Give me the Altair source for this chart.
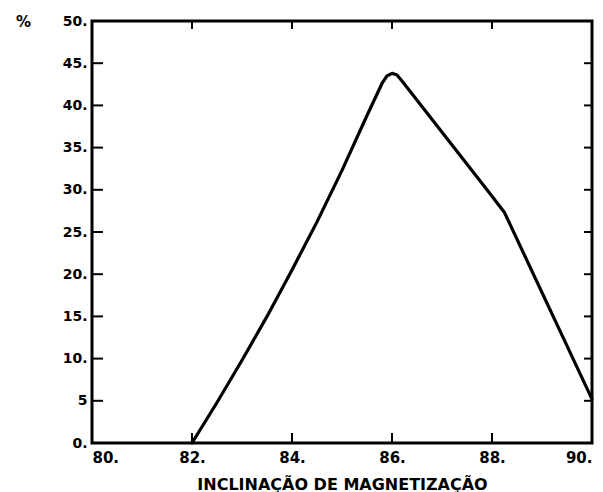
import altair as alt
import pandas as pd

# Percentage as a function of magnetization inclination
inclinacao = [82.0, 82.5, 83.0, 83.5, 84.0, 84.5, 85.0, 85.5, 85.8, 85.9, 86.0, 86.1, 86.2,
              86.9, 87.9, 88.25, 90.0]
percentual = [0.0, 4.8, 9.8, 15.0, 20.5, 26.2, 32.3, 38.8, 42.6, 43.5, 43.8, 43.6, 42.9,
              37.6, 30.0, 27.3, 5.2]

x_ticks = [80, 82, 84, 86, 88, 90]
y_ticks = [0, 5, 10, 15, 20, 25, 30, 35, 40, 45, 50]
x_inner = [82, 84, 86, 88]
y_inner = [5, 10, 15, 20, 25, 30, 35, 40, 45]

W, H = 500, 422
FONT = "DejaVu Sans"

curve = pd.DataFrame({"x": inclinacao, "y": percentual})
xt = pd.DataFrame({"x": x_inner})
yt = pd.DataFrame({"y": y_inner})

x_scale = alt.Scale(domain=[80, 90], nice=False, zero=False)
y_scale = alt.Scale(domain=[0, 50], nice=False)

x_axis = alt.Axis(
    values=x_ticks, labelExpr="datum.value + '.'", ticks=False, domain=False, grid=False,
    labelPadding=7, labelFont=FONT, labelFontSize=15, labelFontWeight="bold", labelColor="black",
    title="INCLINAÇÃO DE MAGNETIZAÇÃO", titleFont=FONT, titleFontSize=16, titleFontWeight="bold",
    titleColor="black", titlePadding=11,
)
y_axis = alt.Axis(
    values=y_ticks, labelExpr="datum.value == 5 ? '5' : datum.value + '.'", ticks=False,
    domain=False, grid=False, labelPadding=5, labelFont=FONT, labelFontSize=14,
    labelFontWeight="bold", labelColor="black",
    title="%", titleAngle=0, titleX=-69, titleY=0, titleAlign="center", titleBaseline="middle",
    titleFont=FONT, titleFontSize=15, titleFontWeight="bold", titleColor="black",
)

line = alt.Chart(curve).mark_line(
    color="black", strokeWidth=3.2, strokeJoin="round", strokeCap="round",
    interpolate="linear",
).encode(
    x=alt.X("x:Q", scale=x_scale, axis=x_axis),
    y=alt.Y("y:Q", scale=y_scale, axis=y_axis),
)

# inward tick marks on all four sides of the frame
bottom_ticks = alt.Chart(xt).mark_rule(color="black", strokeWidth=2).encode(
    x=alt.X("x:Q", scale=x_scale), y=alt.value(H), y2=alt.value(H - 10)
)
top_ticks = alt.Chart(xt).mark_rule(color="black", strokeWidth=2).encode(
    x=alt.X("x:Q", scale=x_scale), y=alt.value(0), y2=alt.value(8)
)
left_ticks = alt.Chart(yt).mark_rule(color="black", strokeWidth=2).encode(
    y=alt.Y("y:Q", scale=y_scale), x=alt.value(0), x2=alt.value(11)
)
right_ticks = alt.Chart(yt).mark_rule(color="black", strokeWidth=2).encode(
    y=alt.Y("y:Q", scale=y_scale), x=alt.value(W), x2=alt.value(W - 8)
)

chart = alt.layer(line, bottom_ticks, top_ticks, left_ticks, right_ticks).properties(
    width=W, height=H,
    autosize=alt.AutoSizeParams(type="none"),
    padding={"left": 92, "top": 21, "right": 11, "bottom": 49},
    background="white",
).configure_view(stroke="black", strokeWidth=3)

chart.save("out.html", embed_options={"renderer": "svg", "actions": False})
